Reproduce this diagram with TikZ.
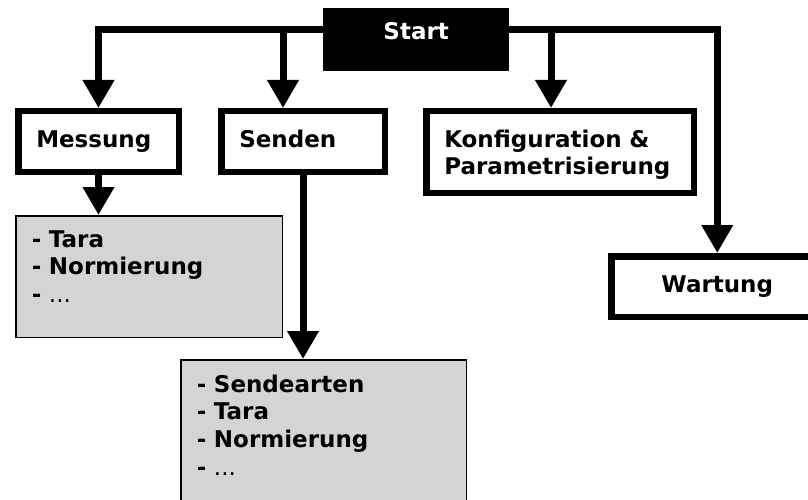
\documentclass[tikz,border=0pt]{standalone}
\usepackage{fontspec}
\setmainfont{DejaVu Sans}
\usetikzlibrary{arrows.meta}
\definecolor{listgrey}{RGB}{212,212,212}
\newcommand{\busshift}{10.5pt}
\newcommand{\moredots}{{\mdseries ...}}

\begin{document}
\begin{tikzpicture}[x=1pt,y=-1pt,
  every node/.style={font=\bfseries\fontsize{23}{27.7}\selectfont},
  startbox/.style={fill=black, text=white, anchor=north west, inner sep=0pt,
    minimum width=186pt, text height=31pt, text depth=32pt},
  box/.style={draw, line width=6.5pt, anchor=north west, align=left,
    inner xsep=18pt, inner ysep=0pt, text height=35.75pt, text depth=24.75pt},
  liste/.style={draw, line width=1.5pt, fill=listgrey, anchor=north west, align=left,
    inner xsep=16pt, inner ysep=0pt},
  conn/.style={line width=7pt, -{Triangle[length=28pt,width=30pt]}}]

\useasboundingbox (0,0) rectangle (808,500);

%% Start box on top
\node[startbox] (start) at (323,8) {Start};

%% Row of boxes below the bus
\node[box, text width=124.5pt] (messung) at (15,108) {Messung};
\node[box, text width=127.5pt] (senden) at (218,108) {Senden};
\node[box, text width=231.5pt, text depth=45.75pt] (konfig) at (423,108)
  {Konfiguration \&\\Parametrisierung};
\node[box, text width=176pt, align=center] (wartung) at (608,253) {Wartung};

%% Grey lists
\node[liste, text width=234.5pt, text height=31.25pt, text depth=90.25pt] (liste1) at (15,215)
  {- Tara\\- Normierung\\- \moredots};
\node[liste, text width=253.5pt, text height=32.25pt, text depth=130pt] (liste2) at (180,359)
  {- Sendearten\\- Tara\\- Normierung\\- \moredots};

%% Bus from start to the four boxes
\draw[conn] ([yshift=\busshift]start.west) -| (messung.north);
\draw[conn] ([yshift=\busshift]start.west) -| ([xshift=-20pt]senden.north);
\draw[conn] ([yshift=\busshift]start.east) -| ([xshift=-9pt]konfig.north);
\draw[conn] ([yshift=\busshift]start.east) -| (wartung.north);

%% Down to the lists
\draw[conn] (messung.south) -- (messung.south |- liste1.north);
\draw[conn] (senden.south) -- (senden.south |- liste2.north);

\end{tikzpicture}
\end{document}
